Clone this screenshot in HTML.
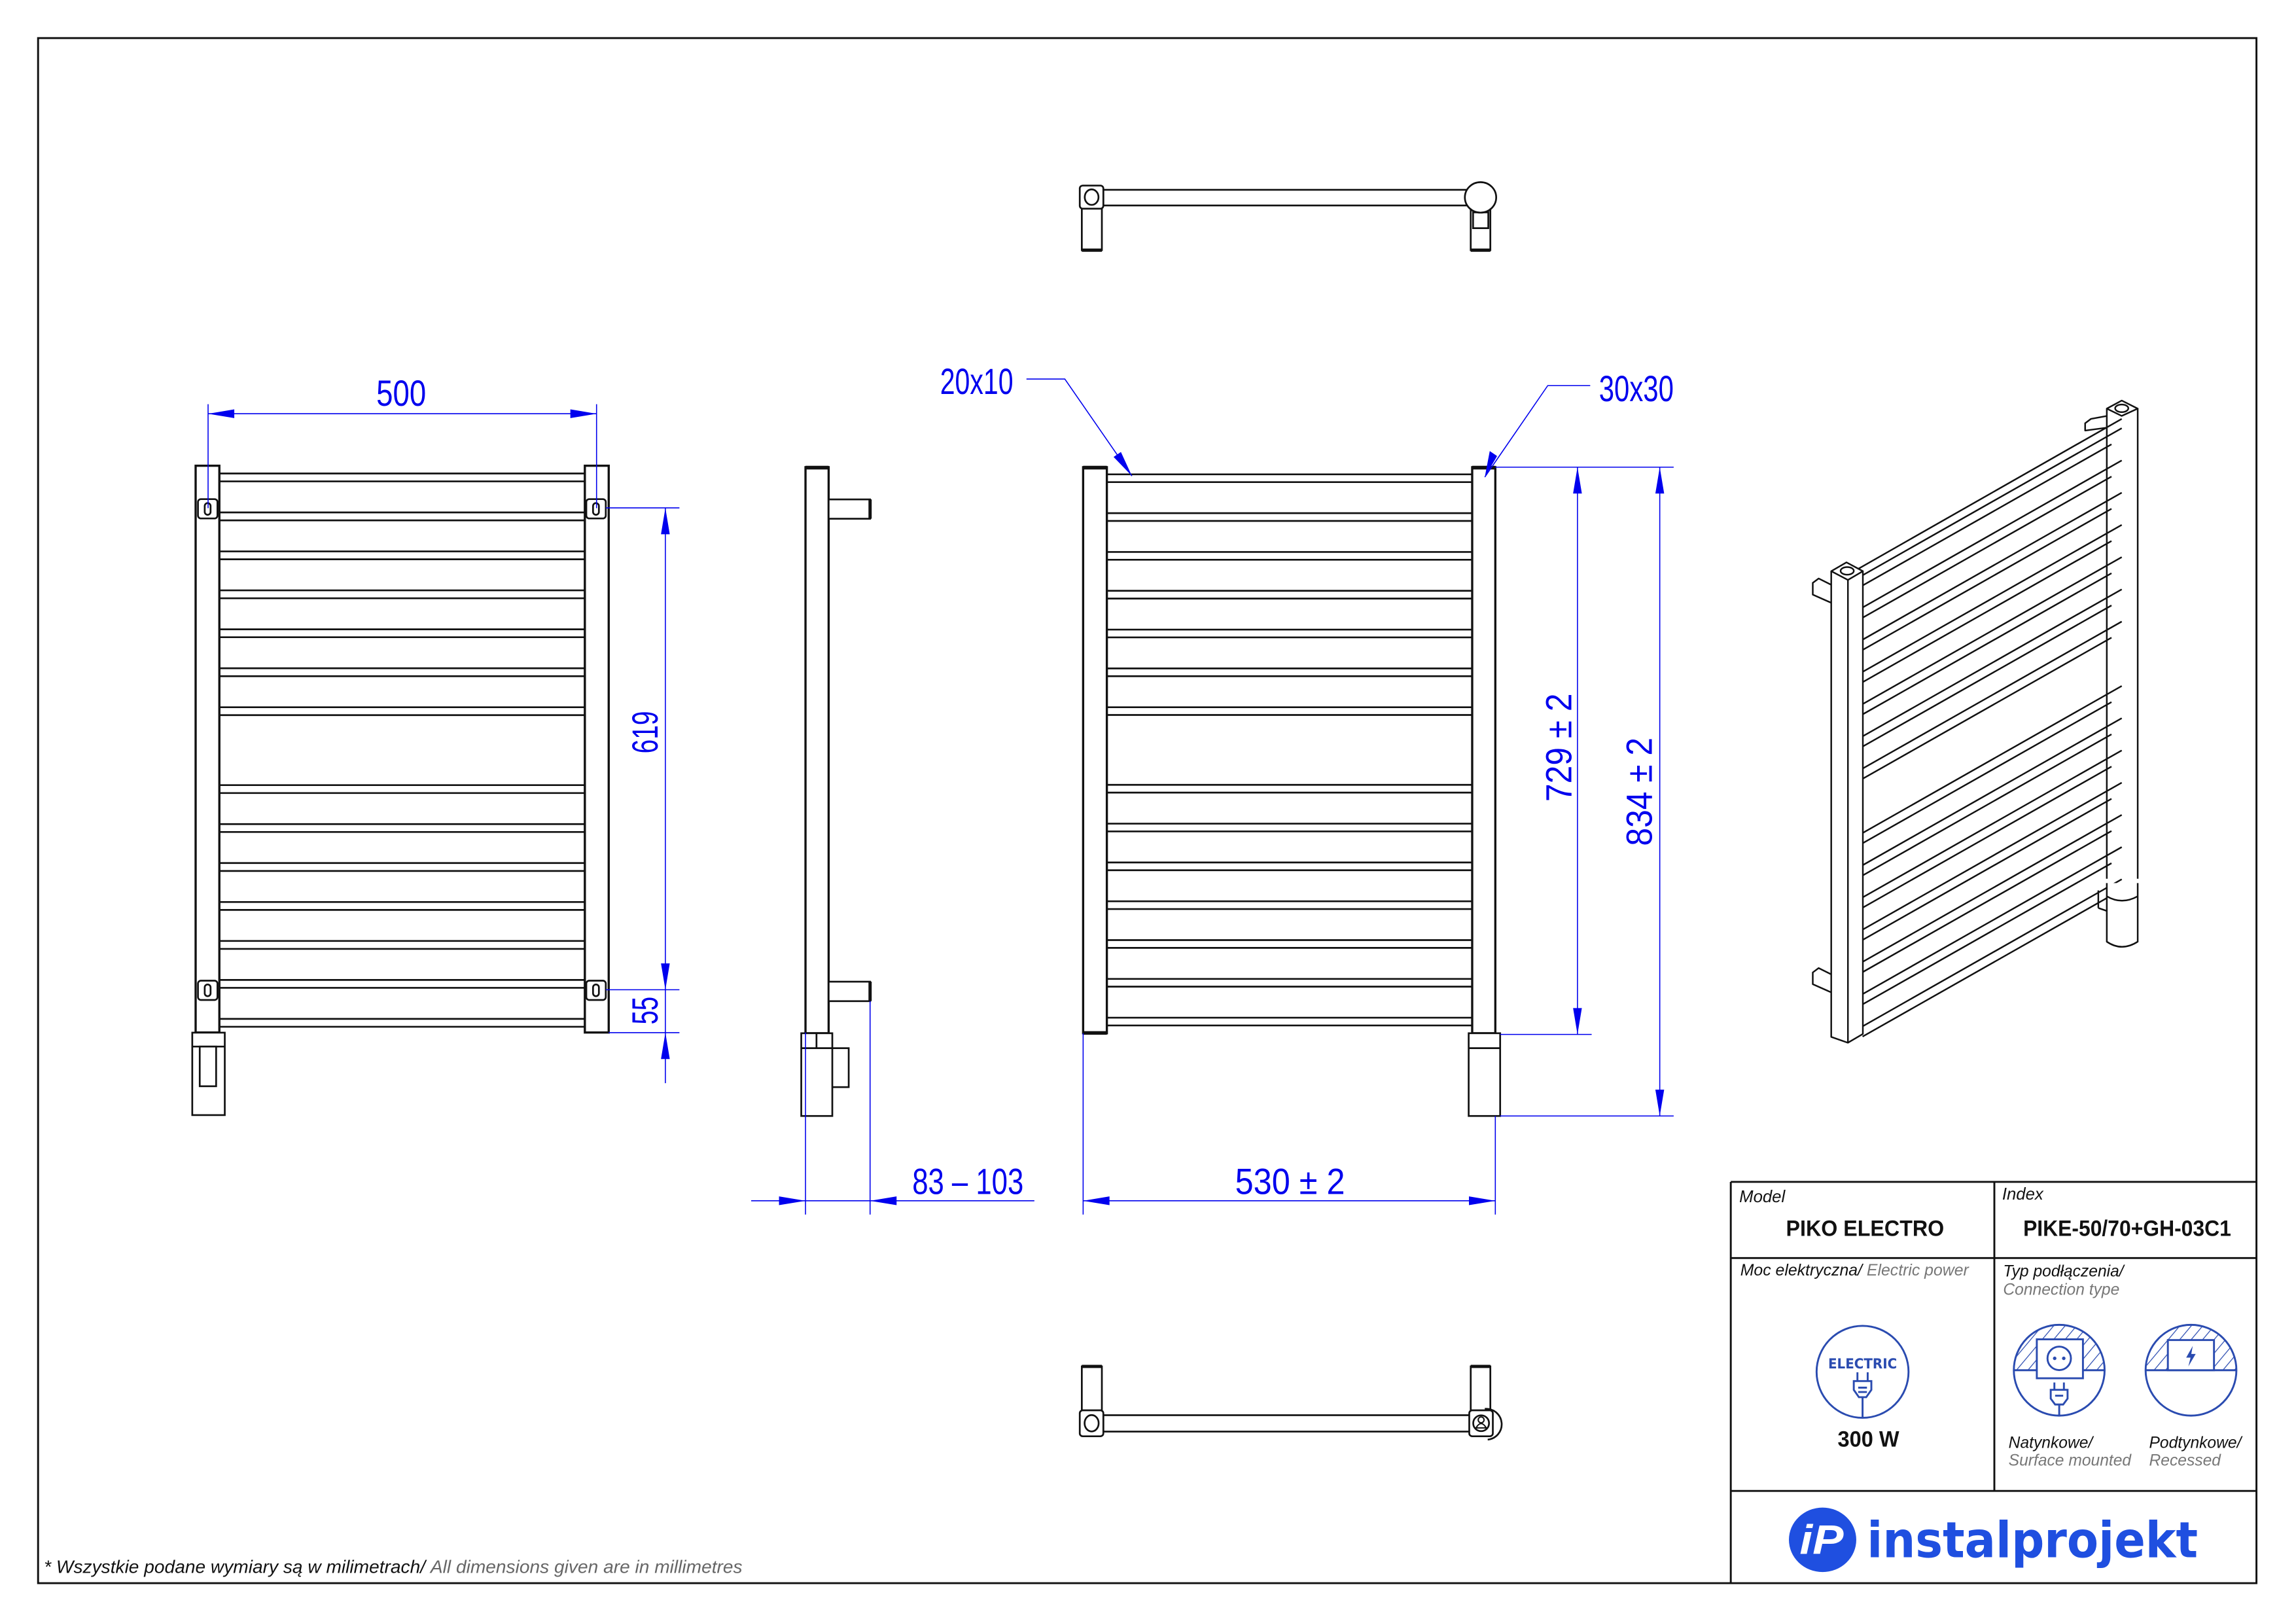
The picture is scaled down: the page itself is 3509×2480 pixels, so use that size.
<!DOCTYPE html>
<html><head><meta charset="utf-8"><style>html,body{margin:0;padding:0;background:#fff}svg{display:block}</style></head>
<body>
<svg xmlns="http://www.w3.org/2000/svg" width="3509" height="2480" viewBox="0 0 1568 1108.2">
<rect x="0" y="0" width="1568" height="1108.2" fill="#fff"/>
<rect x="26" y="26" width="1515" height="1055" fill="none" stroke="#111" stroke-width="1.3"/>

<!-- ===== LEFT VIEW ===== -->
<g stroke="#111" stroke-width="1.2" fill="none">
  <path d="M149.8 323.3H399.4M149.8 328.7H399.4
           M149.8 349.9H399.4M149.8 355.3H399.4
           M149.8 376.5H399.4M149.8 381.9H399.4
           M149.8 403.1H399.4M149.8 408.5H399.4
           M149.8 429.7H399.4M149.8 435.1H399.4
           M149.8 456.3H399.4M149.8 461.7H399.4
           M149.8 482.9H399.4M149.8 488.3H399.4
           M149.8 536.1H399.4M149.8 541.5H399.4
           M149.8 562.7H399.4M149.8 568.1H399.4
           M149.8 589.3H399.4M149.8 594.7H399.4
           M149.8 615.9H399.4M149.8 621.3H399.4
           M149.8 642.5H399.4M149.8 647.9H399.4
           M149.8 669.1H399.4M149.8 674.5H399.4
           M149.8 695.7H399.4M149.8 701.1H399.4"/>
  <rect x="133.6" y="318" width="16.2" height="387" fill="#fff" stroke-width="1.5"/>
  <rect x="399.4" y="318" width="16.3" height="387" fill="#fff" stroke-width="1.5"/>
  <rect x="135.2" y="340.8" width="13.3" height="13.2" rx="2" fill="#fff"/>
  <rect x="400.4" y="340.8" width="13.3" height="13.2" rx="2" fill="#fff"/>
  <rect x="135.2" y="669.6" width="13.3" height="13.2" rx="2" fill="#fff"/>
  <rect x="400.4" y="669.6" width="13.3" height="13.2" rx="2" fill="#fff"/>
  <rect x="139.8" y="343.5" width="4" height="8" rx="2"/>
  <rect x="405" y="343.5" width="4" height="8" rx="2"/>
  <rect x="139.8" y="672.2" width="4" height="8" rx="2"/>
  <rect x="405" y="672.2" width="4" height="8" rx="2"/>
  <rect x="131.3" y="705.1" width="22.2" height="56.3" fill="#fff"/>
  <path d="M131.3 714.6H153.5"/>
  <rect x="136.4" y="714.6" width="11.2" height="27.1"/>
</g>
<g stroke="#0000ee" stroke-width="0.7" fill="none">
  <path d="M142.1 276V347M407.4 276V347M142.1 282.5H407.4"/>
  <path d="M413.7 346.8H464M413.7 675.8H464M415.7 705.1H464M454.4 346.8V739.6"/>
</g>
<g fill="#0000ee">
  <polygon points="142.1,282.5 160,279.5 160,285.5"/>
  <polygon points="407.4,282.5 389.5,279.5 389.5,285.5"/>
  <polygon points="454.4,346.8 451.4,364.8 457.4,364.8"/>
  <polygon points="454.4,675.8 451.4,657.8 457.4,657.8"/>
  <polygon points="454.4,705.1 451.4,723.1 457.4,723.1"/>
</g>
<g font-family="Liberation Sans, sans-serif" font-size="25" fill="#0000ee" text-anchor="middle">
  <text x="274" y="277" textLength="34" lengthAdjust="spacingAndGlyphs">500</text>
  <text transform="translate(440,500) rotate(-90)" x="0" y="9" textLength="29" lengthAdjust="spacingAndGlyphs">619</text>
  <text transform="translate(440,690) rotate(-90)" x="0" y="9" textLength="19" lengthAdjust="spacingAndGlyphs">55</text>
</g>

<g transform="translate(2,0)">
<!-- ===== SIDE VIEW ===== -->
<g stroke="#111" stroke-width="1.2" fill="#fff">
  <rect x="548.1" y="319" width="15.8" height="386.5" stroke-width="1.5"/>
  <path d="M548.1 319.3H563.9" stroke-width="2.5"/>
  <rect x="563.9" y="341" width="28.3" height="13.2"/>
  <rect x="563.9" y="670.3" width="28.3" height="13.3"/>
  <path d="M592.2 341V354.2M592.2 670.3V683.6" stroke-width="2.2"/>
  <rect x="565.2" y="715.7" width="12.4" height="26.6"/>
  <rect x="545.2" y="705.5" width="21.2" height="56.5"/>
  <path d="M545.2 715.7H566.4M555.6 705.5V715.7" fill="none"/>
</g>
<g stroke="#0000ee" stroke-width="0.7" fill="none">
  <path d="M548.1 705V829.3M592.2 683.6V829.3M511 819.9H704.4"/>
</g>
<g fill="#0000ee">
  <polygon points="548.1,819.9 530,816.9 530,822.9"/>
  <polygon points="592.2,819.9 610.3,816.9 610.3,822.9"/>
</g>
<text x="659" y="815.3" font-family="Liberation Sans, sans-serif" font-size="25" fill="#0000ee" text-anchor="middle" textLength="76" lengthAdjust="spacingAndGlyphs">83 – 103</text>

<!-- ===== FRONT VIEW ===== -->
<g stroke="#111" stroke-width="1.2" fill="none">
  <path d="M753.9 323.9H1003.4M753.9 329.2H1003.4
           M753.9 350.4H1003.4M753.9 355.7H1003.4
           M753.9 376.9H1003.4M753.9 382.2H1003.4
           M753.9 403.4H1003.4M753.9 408.7H1003.4
           M753.9 429.9H1003.4M753.9 435.2H1003.4
           M753.9 456.4H1003.4M753.9 461.7H1003.4
           M753.9 482.9H1003.4M753.9 488.2H1003.4
           M753.9 535.9H1003.4M753.9 541.2H1003.4
           M753.9 562.4H1003.4M753.9 567.7H1003.4
           M753.9 588.9H1003.4M753.9 594.2H1003.4
           M753.9 615.4H1003.4M753.9 620.7H1003.4
           M753.9 641.9H1003.4M753.9 647.2H1003.4
           M753.9 668.4H1003.4M753.9 673.7H1003.4
           M753.9 694.9H1003.4M753.9 700.2H1003.4"/>
  <rect x="737.7" y="319" width="16.2" height="386.5" fill="#fff" stroke-width="1.5"/>
  <rect x="1003.4" y="319" width="15.8" height="386.5" fill="#fff" stroke-width="1.5"/>
  <path d="M737.7 319.3H753.9M1003.4 319.3H1019.2M737.7 705.3H753.9" stroke-width="2.5"/>
  <rect x="1001" y="705.5" width="21.5" height="56.5" fill="#fff"/>
  <path d="M1001 715.7H1022.5"/>
</g>
<g stroke="#0000ee" stroke-width="0.7" fill="none">
  <path d="M1019.2 319H1141M1022.5 706.3H1085M1022.5 762H1141"/>
  <path d="M1075.3 319V706.3M1131.5 319V762"/>
  <path d="M737.7 705.5V829.3M1019.2 762V829.3M737.7 819.9H1019.2"/>
  <path d="M699 258.8H725.2L771 325M1084 263.3H1055L1012 325.8"/>
</g>
<g fill="#0000ee">
  <polygon points="1075.3,319 1072.3,337 1078.3,337"/>
  <polygon points="1075.3,706.3 1072.3,688.3 1078.3,688.3"/>
  <polygon points="1131.5,319 1128.5,337 1134.5,337"/>
  <polygon points="1131.5,762 1128.5,744 1134.5,744"/>
  <polygon points="737.7,819.9 755.7,816.9 755.7,822.9"/>
  <polygon points="1019.2,819.9 1001.2,816.9 1001.2,822.9"/>
  <polygon points="771,325 758.5,312 763.5,308.6"/>
  <polygon points="1012,325.8 1015.4,308 1020.4,311.4"/>
</g>
<g font-family="Liberation Sans, sans-serif" font-size="25" fill="#0000ee" text-anchor="middle">
  <text x="665" y="269" textLength="50" lengthAdjust="spacingAndGlyphs">20x10</text>
  <text x="1115.5" y="274" textLength="51" lengthAdjust="spacingAndGlyphs">30x30</text>
  <text x="879" y="815.3" textLength="75" lengthAdjust="spacingAndGlyphs">530  ± 2</text>
  <text transform="translate(1062,510.4) rotate(-90)" x="0" y="9" textLength="74" lengthAdjust="spacingAndGlyphs">729  ± 2</text>
  <text transform="translate(1117,540.6) rotate(-90)" x="0" y="9" textLength="74" lengthAdjust="spacingAndGlyphs">834  ± 2</text>
</g>

<!-- ===== TOP VIEW ===== -->
<g stroke="#111" stroke-width="1.2" fill="#fff">
  <rect x="736.8" y="140" width="13.7" height="30.8"/>
  <rect x="1002.4" y="140" width="13.4" height="30.8"/>
  <path d="M736.8 170.8H750.5M1002.4 170.8H1015.8" stroke-width="2.2"/>
  <rect x="1004" y="145" width="10.4" height="10.8"/>
  <rect x="751.5" y="129.6" width="248" height="10.7"/>
  <rect x="735.4" y="126.7" width="16.1" height="15.8" rx="2"/>
  <ellipse cx="743.5" cy="134.6" rx="4.7" ry="5.3"/>
  <ellipse cx="1009.1" cy="134.8" rx="10.7" ry="10.4"/>
</g>

<!-- ===== BOTTOM VIEW ===== -->
<g stroke="#111" stroke-width="1.2" fill="#fff">
  <rect x="736.8" y="933" width="13.7" height="30"/>
  <rect x="1002.4" y="933" width="13.4" height="30"/>
  <path d="M736.8 933H750.5M1002.4 933H1015.8" stroke-width="2.2"/>
  <path d="M1012 962 A10 10 0 0 1 1014 983" fill="none"/>
  <rect x="751.5" y="966.3" width="251" height="11.2"/>
  <rect x="735.4" y="963" width="16.1" height="17.7" rx="2"/>
  <ellipse cx="743.5" cy="971.8" rx="4.8" ry="5.6"/>
  <rect x="1001.4" y="963" width="16.1" height="17.7" rx="2"/>
  <circle cx="1009.5" cy="971.8" r="5.4"/>
  <path d="M1006 975 Q1009.5 969 1013 975 Z M1007.5 969.5 a2 2 0 1 0 4 0 a2 2 0 1 0 -4 0" fill="none" stroke-width="0.9"/>
</g>
</g>

<!-- ===== ISO VIEW ===== -->
<g stroke="#111" stroke-width="1.1" fill="none" stroke-linejoin="round" transform="translate(6,0)">
  <path d="M1250 402 L1236 395 L1232 398 L1232 406 L1250 414"/>
  <path d="M1250 668 L1236 661 L1232 664 L1232 672 L1250 680"/>
  <path d="M1433 284 L1422 286 L1418 289 L1418 294 L1433 292"/>
  <path d="M1432.8 279V600M1453.9 279V600" />
  <path d="M1432.8 279 L1443 273.5 L1453.9 279 L1443 284 Z" fill="#fff"/>
  <ellipse cx="1443" cy="278.8" rx="4.5" ry="2.6"/>
  <path d="M1266 392.8L1443 292.4M1266 399.8L1436 303.4
           M1266 414.8L1443 314.4M1266 421.8L1436 325.4
           M1266 436.8L1443 336.4M1266 443.8L1436 347.4
           M1266 458.8L1443 358.4M1266 465.8L1436 369.4
           M1266 480.8L1443 380.4M1266 487.8L1436 391.4
           M1266 502.8L1443 402.4M1266 509.8L1436 413.4
           M1266 524.8L1443 424.4M1266 531.8L1436 435.4
           M1266 568.8L1443 468.4M1266 575.8L1436 479.4
           M1266 590.8L1443 490.4M1266 597.8L1436 501.4
           M1266 612.8L1443 512.4M1266 619.8L1436 523.4
           M1266 634.8L1443 534.4M1266 641.8L1436 545.4
           M1266 656.8L1443 556.4M1266 663.8L1436 567.4
           M1266 678.8L1443 578.4M1266 685.8L1436 589.4
           M1266 700.8L1443 600.4M1266 707.8L1436 611.4"/>
  <path d="M1262 389 L1443 286"/>
  <path d="M1432.8 603 V643 Q1443 650 1453.9 643 V603" fill="#fff"/>
  <path d="M1432.8 612 Q1443 618 1453.9 612"/>
  <path d="M1427 620 L1432.8 622 M1427 608 V620"/>
  <path d="M1244.6 390 V708 L1256 712 L1266.2 706 V390" fill="#fff"/>
  <path d="M1244.6 390 L1255 384 L1266.2 390 L1256 396 Z" fill="#fff"/>
  <path d="M1256 396 V712"/>
  <ellipse cx="1255.5" cy="389.8" rx="4.5" ry="2.6"/>
</g>

<!-- ===== TITLE BLOCK ===== -->
<g stroke="#111" stroke-width="1.3" fill="none">
  <path d="M1182 807H1541M1182 807V1081M1362 807V1018M1182 859H1541M1182 1018H1541"/>
</g>
<g font-family="Liberation Sans, sans-serif">
  <text x="1187.8" y="820.8" font-size="11.5" font-style="italic" fill="#111">Model</text>
  <text x="1367.3" y="819" font-size="11.5" font-style="italic" fill="#111">Index</text>
  <text x="1273.7" y="843.9" font-size="15.5" font-weight="bold" fill="#111" text-anchor="middle" textLength="108" lengthAdjust="spacingAndGlyphs">PIKO ELECTRO</text>
  <text x="1452.7" y="843.9" font-size="15.5" font-weight="bold" fill="#111" text-anchor="middle" textLength="142" lengthAdjust="spacingAndGlyphs">PIKE-50/70+GH-03C1</text>
  <text x="1188.5" y="871" font-size="11" font-style="italic" fill="#111" textLength="156" lengthAdjust="spacingAndGlyphs">Moc elektryczna/ <tspan fill="#777">Electric power</tspan></text>
  <text x="1368" y="871.5" font-size="11" font-style="italic" fill="#111">Typ podłączenia/</text>
  <text x="1368" y="884" font-size="11" font-style="italic" fill="#777">Connection type</text>
  <text x="1276" y="987.8" font-size="15.5" font-weight="bold" fill="#111" text-anchor="middle" textLength="42" lengthAdjust="spacingAndGlyphs">300 W</text>
  <text x="1371.7" y="988.7" font-size="11" font-style="italic" fill="#111">Natynkowe/</text>
  <text x="1371.7" y="1000.7" font-size="11" font-style="italic" fill="#777">Surface mounted</text>
  <text x="1467.7" y="988.7" font-size="11" font-style="italic" fill="#111">Podtynkowe/</text>
  <text x="1467.7" y="1000.7" font-size="11" font-style="italic" fill="#777">Recessed</text>
</g>
<defs>
  <pattern id="hatch" patternUnits="userSpaceOnUse" width="6" height="6" patternTransform="rotate(40)">
    <line x1="0" y1="0" x2="0" y2="6" stroke="#2a4bb0" stroke-width="1.1"/>
  </pattern>
  <clipPath id="c1"><circle cx="1406.3" cy="935.6" r="31"/></clipPath>
  <clipPath id="c2"><circle cx="1496.3" cy="935.6" r="31"/></clipPath>
</defs>
<g stroke="#2a4bb0" stroke-width="1.3" fill="none">
  <circle cx="1272" cy="936.7" r="31.4"/>
  <path d="M1268.5 937V943M1275.5 937V943M1266 943H1278V949L1274.5 954H1269.5L1266 949Z M1269 947.5H1275M1269 950.5H1275M1272 954V968"/>
</g>
<text x="1272" y="934.3" font-family="DejaVu Sans, Liberation Sans, sans-serif" font-weight="bold" font-size="9.5" fill="#2a4bb0" text-anchor="middle" textLength="47" lengthAdjust="spacingAndGlyphs">ELECTRIC</text>
<g clip-path="url(#c1)">
  <rect x="1370" y="900" width="80" height="35.6" fill="url(#hatch)"/>
</g>
<g stroke="#2a4bb0" stroke-width="1.3" fill="none">
  <circle cx="1406.3" cy="935.6" r="31"/>
  <path d="M1375.3 935.6H1437.3"/>
  <rect x="1391" y="914.5" width="31.5" height="26.6" fill="#fff"/>
  <circle cx="1406.3" cy="927.5" r="8"/>
  <path d="M1403 944V949M1409.5 944V949M1400.5 949H1412V955L1409 959H1403.5L1400.5 955Z M1403.5 953H1409M1406.3 959V967"/>
</g>
<circle cx="1403.2" cy="927.5" r="1.2" fill="#2a4bb0"/>
<circle cx="1409.4" cy="927.5" r="1.2" fill="#2a4bb0"/>
<g clip-path="url(#c2)">
  <rect x="1460" y="900" width="80" height="35.6" fill="url(#hatch)"/>
</g>
<g stroke="#2a4bb0" stroke-width="1.3" fill="none">
  <circle cx="1496.3" cy="935.6" r="31"/>
  <path d="M1465.3 935.6H1527.3"/>
  <rect x="1480.5" y="915" width="31.5" height="20.6" fill="#fff"/>
</g>
<polygon points="1497.5,919 1493,927 1496,927 1494.5,933 1499.5,924.5 1496.5,924.5" fill="#2a4bb0"/>
<ellipse cx="1244.7" cy="1051.4" rx="23" ry="22" fill="#1f4fe0"/>
<text x="1244" y="1061" font-family="Liberation Sans, sans-serif" font-weight="bold" font-style="italic" font-size="28" fill="#fff" text-anchor="middle" textLength="30" lengthAdjust="spacingAndGlyphs">iP</text>
<text x="1275" y="1063.4" font-family="DejaVu Sans, Liberation Sans, sans-serif" font-weight="bold" font-size="34" fill="#1f4fe0" textLength="226" lengthAdjust="spacingAndGlyphs">instalprojekt</text>

<text x="30" y="1074" font-family="Liberation Sans, sans-serif" font-size="12.5" font-style="italic" fill="#111" textLength="477" lengthAdjust="spacingAndGlyphs">* Wszystkie podane wymiary są w milimetrach/ <tspan fill="#666">All dimensions given are in millimetres</tspan></text>
</svg>
</body></html>
